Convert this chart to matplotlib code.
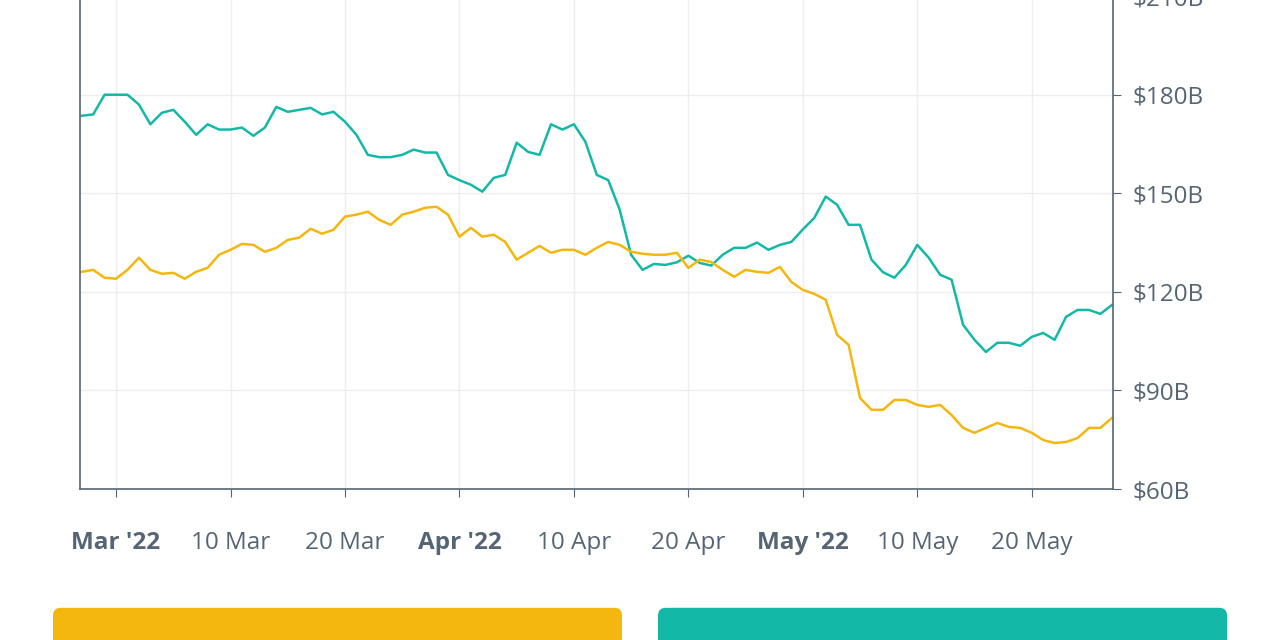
import matplotlib
matplotlib.use("Agg")
import matplotlib.pyplot as plt
from matplotlib.patches import FancyBboxPatch
import numpy as np

plt.rcParams['font.family'] = ['Open Sans', 'DejaVu Sans']

days = list(range(-3, 88))
teal = [173.6,174,180,180,180,177,171,174.5,175.4,171.8,167.8,171,169.4,169.4,170,167.5,170,176.3,174.8,175.4,176,174,174.8,171.8,167.8,161.7,161,161,161.7,163.3,162.4,162.4,155.6,154,152.6,150.5,154.7,155.6,165.4,162.6,161.7,171,169.4,171,165.7,155.6,154,145,131.3,126.7,128.5,128.2,129,131,128.8,128,131.3,133.4,133.4,135,132.8,134.3,135.2,139,142.5,149,146.5,140.4,140.4,129.8,126,124.3,128.2,134.3,130.4,125.2,123.7,110,105.4,101.7,104.5,104.5,103.6,106.3,107.5,105.4,112.4,114.5,114.5,113.3,116]
yellow = [126.1,126.7,124.3,124,126.7,130.4,126.7,125.5,125.8,124,126.1,127.3,131.3,132.8,134.6,134.3,132.2,133.4,135.8,136.5,139.2,137.7,138.9,142.9,143.5,144.4,141.9,140.4,143.5,144.4,145.6,145.9,143.5,136.8,139.5,136.8,137.4,135.2,129.8,131.9,134,131.9,132.8,132.8,131.3,133.4,135.2,134.3,132.2,131.6,131.3,131.3,131.9,127.3,129.8,129.1,126.7,124.6,126.7,126.1,125.8,127.6,123,120.6,119.4,117.6,106.9,103.9,87.7,84.1,84.1,87.1,87.1,85.6,85,85.6,82.5,78.6,77.1,78.6,80.1,78.9,78.6,77.1,74.9,74,74.3,75.5,78.6,78.6,81.6]
tick_pos = [0,10,20,30,40,50,60,70,80]
tick_labels = ["Mar '22","10 Mar","20 Mar","Apr '22","10 Apr","20 Apr","May '22","10 May","20 May"]
y_ticks = [60,90,120,150,180,210]

TEAL = '#14b8a6'
YEL = '#f4b70f'
fig = plt.figure(figsize=(12.8, 6.4), dpi=100)
ax = fig.add_axes([80/1280, 1-489/640, (1113-80)/1280, 489/640 + 0.006])
ax.plot(days, teal, color=TEAL, lw=1.8)
ax.plot(days, yellow, color=YEL, lw=1.8)
ax.set_xlim(-3.15, 87.1)
ax.set_ylim(60, 210)
ax.set_xticks(tick_pos)
ax.set_xticklabels(tick_labels)
for t in ax.get_xticklabels():
    if "'" in t.get_text():
        t.set_fontweight('bold')
ax.yaxis.tick_right()
ax.set_yticks(y_ticks)
ax.set_yticklabels([f"${v}B" for v in y_ticks])
ax.tick_params(axis='x', colors='#566573', labelsize=17.5, length=6, pad=24, color='#566573')
ax.tick_params(axis='y', colors='#566573', labelsize=17.5, length=6, pad=8, color='#566573')
ax.grid(True, color='#eeeeee', lw=1)
ax.spines['top'].set_visible(False)
for s in ['left', 'bottom', 'right']:
    ax.spines[s].set_color('#566573')
    ax.spines[s].set_linewidth(1.2)

for x0, x1, c in [(53, 622, YEL), (658, 1227, TEAL)]:
    p = FancyBboxPatch((x0/1280, -0.02), (x1-x0)/1280, 45/640, boxstyle="round,pad=0,rounding_size=0.006",
                       transform=fig.transFigure, facecolor=c, edgecolor='none', mutation_aspect=2)
    fig.patches.append(p)
fig.savefig('out.png', dpi=100)
